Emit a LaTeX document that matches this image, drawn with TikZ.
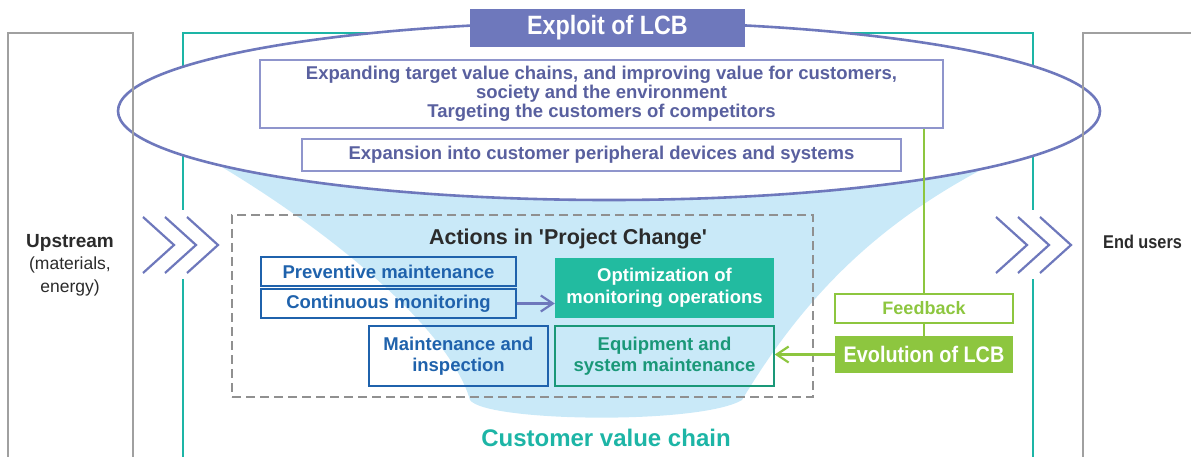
\documentclass[tikz,border=0pt]{standalone}
\usepackage{fontspec}
\setmainfont{Liberation Sans}
\newfontfamily\narrowsans{Liberation Sans}[FakeStretch=0.88]
\usetikzlibrary{arrows.meta}

\definecolor{lcbpurple}{HTML}{6E78BC}
\definecolor{lcbslate}{HTML}{59609F}
\definecolor{lcbframe}{HTML}{8F95CC}
\definecolor{chainteal}{HTML}{1DB5A6}
\definecolor{optteal}{HTML}{22BBA0}
\definecolor{eqgreen}{HTML}{1A9878}
\definecolor{actblue}{HTML}{1F62AC}
\definecolor{fbgreen}{HTML}{8DC63F}
\definecolor{funnelblue}{HTML}{C9E9F8}
\definecolor{sidegrey}{HTML}{A0A0A0}
\definecolor{inkgrey}{HTML}{2B2B2B}

\begin{document}
\begin{tikzpicture}[x=1pt,y=-1pt,
  boxfont/.style={font=\fontsize{18.5pt}{21.5pt}\selectfont\bfseries},
  topbox/.style={draw=lcbframe,line width=1.5pt,text=lcbslate,align=center,inner sep=0pt,
    boxfont,font=\fontsize{18.5pt}{19pt}\selectfont\bfseries},
  actbox/.style={draw=actblue,line width=1.3pt,text=actblue,align=center,inner sep=0pt,boxfont},
  chev/.style={draw=lcbpurple,line width=2.2pt},
  barb/.style={-{Straight Barb[length=12pt,width=16pt]},line width=2.2pt}]
\useasboundingbox (0,0) rectangle (1191,457);

% value chain frame, broken where the chevrons pass
\draw[chainteal,line width=2pt] (183,210) |- (1033,33) -- (1033,210);
\draw[chainteal,line width=2pt] (183,279) -- (183,470);
\draw[chainteal,line width=2pt] (1033,279) -- (1033,470);

% funnel under the ellipse
\fill[funnelblue] (210,160) .. controls (330,230) and (450,330) .. (470,400)
  .. controls (485,422) and (700,425) .. (742,400)
  .. controls (805,295) and (880,220) .. (1000,160) -- (1000,130) -- (210,130) -- cycle;
\draw[lcbpurple,line width=2.6pt,fill=white] (609,111) ellipse [x radius=491pt,y radius=89pt];

% upstream and end user columns
\draw[sidegrey,line width=1.7pt] (8,470) |- (133,33) -- (133,470);
\draw[sidegrey,line width=1.7pt] (1083,470) |- (1200,33);
\node[text=inkgrey,align=center,font=\fontsize{17.5pt}{22.5pt}\selectfont] (upstream) at (70,265)
  {{\fontsize{19pt}{22.5pt}\selectfont\bfseries Upstream}\\(materials,\\energy)};
\node[text=inkgrey,anchor=west,inner sep=0pt,font=\narrowsans\fontsize{18.5pt}{20pt}\selectfont\bfseries]
  (endusers) at (1103,242) {End users};
\foreach \cx in {143,165,187}
  \draw[chev] (\cx,217) -- (\cx+31,245) -- (\cx,273);
\foreach \cx in {996,1018,1040}
  \draw[chev] (\cx,217) -- (\cx+31,245) -- (\cx,273);

% exploit of LCB
\node[fill=lcbpurple,text=white,minimum width=275,minimum height=38,inner sep=0pt,
  font=\narrowsans\fontsize{26.5pt}{28pt}\selectfont\bfseries] (exploit) at (607.5,28) {Exploit of LCB};
\node[topbox,minimum width=683,minimum height=68] (chains) at (601.5,94)
  {Expanding target value chains, and improving value for customers,\\
   society and the environment\\Targeting the customers of competitors};
\node[topbox,minimum width=599,minimum height=32] (periph) at (601.5,155)
  {Expansion into customer peripheral devices and systems};

% project change
\node[draw=sidegrey!90!black,dashed,dash pattern=on 9pt off 5pt,line width=1.5pt,
  minimum width=581,minimum height=182] (project) at (522.5,306) {};
\node[text=inkgrey,font=\fontsize{21.5pt}{23pt}\selectfont\bfseries] (actions) at (568,239)
  {Actions in \textquotesingle Project Change\textquotesingle};
\node[actbox,minimum width=255,minimum height=29] (prevent) at (388.5,271.5) {Preventive maintenance};
\node[actbox,minimum width=255,minimum height=29] (monitor) at (388.5,303.5) {Continuous monitoring};
\node[actbox,minimum width=179,minimum height=60] (inspect) at (458.5,356) {Maintenance and\\inspection};
\node[fill=optteal,text=white,align=center,inner sep=0pt,boxfont,minimum width=219,minimum height=60]
  (optimize) at (664.5,288) {Optimization of\\monitoring operations};
\node[actbox,draw=eqgreen,text=eqgreen,minimum width=219,minimum height=60]
  (equip) at (664.5,356) {Equipment and\\system maintenance};
\draw[barb,lcbpurple] (monitor.east) -- (monitor.east -| optimize.west);

% feedback loop
\node[draw=fbgreen,line width=1.5pt,text=fbgreen,inner sep=0pt,minimum width=178,minimum height=29,
  font=\fontsize{18pt}{20pt}\selectfont\bfseries] (feedback) at (924,308.5) {Feedback};
\node[fill=fbgreen,text=white,inner sep=0pt,minimum width=178,minimum height=37,
  font=\narrowsans\fontsize{22.5pt}{24pt}\selectfont\bfseries] (evolve) at (924,354.5) {Evolution of LCB};
\draw[fbgreen,line width=2pt] (chains.south -| feedback) -- (feedback.north);
\draw[fbgreen,line width=2pt] (feedback) -- (evolve);
\draw[barb,fbgreen] (evolve.west) -- (evolve.west -| equip.east);

\node[text=chainteal,font=\fontsize{24pt}{26pt}\selectfont\bfseries] (chain) at (606,438) {Customer value chain};
\end{tikzpicture}
\end{document}
